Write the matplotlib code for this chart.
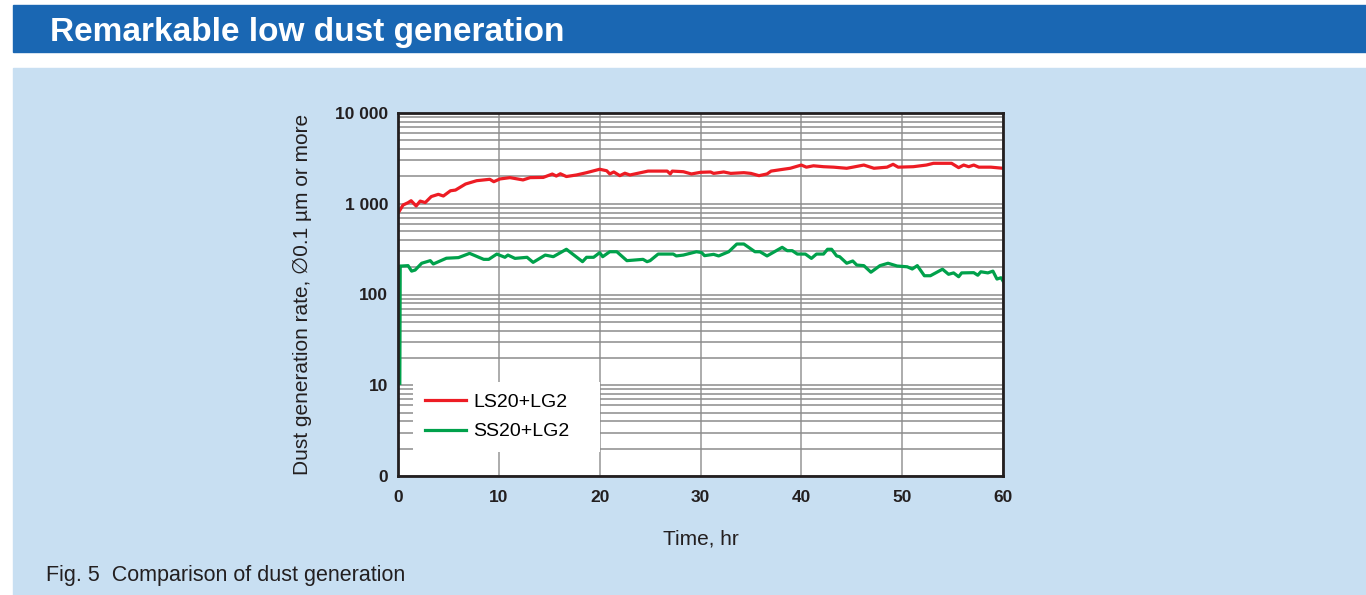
import matplotlib.pyplot as plt
from matplotlib.patches import Rectangle

plt.rcParams['font.family'] = ['Liberation Sans', 'DejaVu Sans']

# LS20+LG2 (red)
t_ls = [0, 0.5, 1.0, 1.3, 1.8, 2.2, 2.7, 3.3, 4.0, 4.5, 5.2, 5.7, 6.7, 7.8, 9.1,
        9.5, 10.1, 11.1, 12.4, 13.1, 14.4, 15.3, 15.7, 16.1, 16.7, 17.7, 18.7, 20.0,
        20.7, 21.0, 21.4, 22.0, 22.5, 23.0, 24.8, 26.7, 27.0, 27.2, 28.3, 29.1, 30.0,
        31.0, 31.3, 32.3, 33.0, 34.3, 35.0, 35.8, 36.6, 37.0, 38.0, 38.9, 40.0, 40.5,
        41.2, 42.2, 43.2, 44.5, 45.1, 46.2, 47.2, 48.5, 49.1, 49.6, 51.1, 52.4, 53.1,
        54.9, 55.6, 56.1, 56.6, 57.1, 57.6, 58.8, 60.0]
v_ls = [785, 968, 1028, 1080, 945, 1070, 1030, 1200, 1270, 1217, 1390, 1415, 1650, 1795, 1860,
        1750, 1875, 1940, 1830, 1940, 1950, 2125, 2020, 2140, 1995, 2075, 2200, 2400,
        2310, 2130, 2240, 2040, 2170, 2075, 2290, 2290, 2130, 2290, 2255, 2130, 2220,
        2240, 2160, 2240, 2160, 2200, 2160, 2040, 2130, 2290, 2380, 2460, 2670, 2530,
        2620, 2560, 2530, 2460, 2530, 2670, 2460, 2530, 2720, 2530, 2560, 2670, 2790,
        2790, 2500, 2670, 2560, 2670, 2530, 2530, 2460]

# SS20+LG2 (green)
t_ss = [0.18, 0.22, 0.37, 1.0, 1.35, 1.7, 2.35, 3.2, 3.5, 4.8, 6.0, 7.1, 8.5, 9.0, 9.8,
        10.6, 10.9, 11.6, 12.8, 13.4, 14.6, 15.4, 16.7, 18.3, 18.7, 19.4, 20.0, 20.3,
        21.0, 21.7, 22.7, 24.3, 24.7, 25.0, 25.8, 27.3, 27.6, 28.3, 29.6, 30.1, 30.4,
        31.3, 31.8, 32.8, 33.6, 34.3, 35.4, 35.9, 36.6, 38.1, 38.6, 39.1, 39.6, 40.4,
        41.0, 41.5, 42.2, 42.6, 43.0, 43.5, 43.8, 44.5, 45.1, 45.5, 46.2, 46.9, 47.8,
        48.6, 49.5, 50.5, 51.0, 51.5, 52.2, 52.8, 54.0, 54.6, 55.1, 55.6, 55.9, 57.1,
        57.5, 57.8, 58.5, 59.0, 59.4, 59.8, 60.0]
v_ss = [10.5, 206, 206, 208, 181, 186, 221, 236, 217, 251, 255, 284, 244, 244, 279,
        257, 272, 250, 257, 226, 272, 261, 315, 230, 257, 257, 289, 261,
        296, 296, 236, 244, 230, 236, 279, 279, 266, 272, 296, 290, 268,
        277, 266, 296, 360, 360, 296, 296, 266, 331, 304, 304, 279, 279,
        250, 279, 279, 315, 315, 266, 261, 221, 234, 211, 208, 176, 208,
        221, 206, 202, 191, 208, 161, 161, 190, 167, 173, 157, 173, 174,
        163, 178, 173, 181, 148, 153, 141]

x_ticks = [0, 10, 20, 30, 40, 50, 60]
y_ticks = [1, 10, 100, 1000, 10000]
y_labels = ['0', '10', '100', '1 000', '10 000']

W, H = 1366, 595
fig = plt.figure(figsize=(W / 100, H / 100), dpi=100, facecolor='white')

# header banner and panel
fig.patches.append(Rectangle((13 / W, 1 - 52 / H), (W - 13) / W, 47 / H,
                             transform=fig.transFigure, color='#1a67b3', zorder=0))
fig.patches.append(Rectangle((13 / W, 0), (W - 13) / W, 1 - 68 / H,
                             transform=fig.transFigure, color='#c8dff2', zorder=0))
fig.text(50 / W, 1 - 33 / H, 'Remarkable low dust generation', color='white',
         fontsize=24, fontweight='bold', va='center', ha='left')
fig.text(46 / W, 1 - 575 / H, 'Fig. 5  Comparison of dust generation',
         fontsize=15.5, va='center', ha='left', color='#231f20')

ax = fig.add_axes([398 / W, 1 - 476 / H, (1003 - 398) / W, (476 - 113) / H])
ax.set_zorder(2)
ax.set_facecolor('white')

ax.plot(t_ls, v_ls, color='#ed1c24', lw=2.3, label='LS20+LG2', zorder=3)
ax.plot(t_ss, v_ss, color='#00a14b', lw=2.3, label='SS20+LG2', zorder=3)

ax.set_yscale('log')
ax.set_ylim(1, 10000)
ax.set_xlim(0, 60)
ax.set_xticks(x_ticks)
ax.set_xticklabels([str(x) for x in x_ticks], fontsize=12.5, fontweight='bold')
ax.set_yticks(y_ticks)
ax.set_yticklabels(y_labels, fontsize=12.5, fontweight='bold')
ax.tick_params(axis='both', which='both', length=0, colors='#231f20')
ax.tick_params(axis='x', pad=10)
ax.tick_params(axis='y', pad=7)

ax.grid(True, axis='y', which='both', color='#8c8c8c', lw=1.1, zorder=1)
ax.grid(True, axis='x', which='major', color='#a6a6a6', lw=1.3, zorder=1)

for s in ax.spines.values():
    s.set_linewidth(2)
    s.set_color('#231f20')
    s.set_zorder(4)

ax.set_xlabel('Time, hr', fontsize=15, labelpad=18, color='#231f20')
ax.set_ylabel('Dust generation rate, \u22050.1 \u00b5m or more', fontsize=15,
              labelpad=17, color='#231f20')

leg = ax.legend(loc='lower left', bbox_to_anchor=(0.025, 0.066, 0.309, 0.19),
                mode='expand', borderaxespad=0,
                fontsize=14, frameon=True, fancybox=False, handlelength=2.1,
                handletextpad=0.4, labelspacing=0.6, borderpad=0.6)
leg.get_frame().set_facecolor('white')
leg.get_frame().set_edgecolor('none')
leg.get_frame().set_alpha(1)

plt.savefig('out.png', dpi=100, facecolor='white')
